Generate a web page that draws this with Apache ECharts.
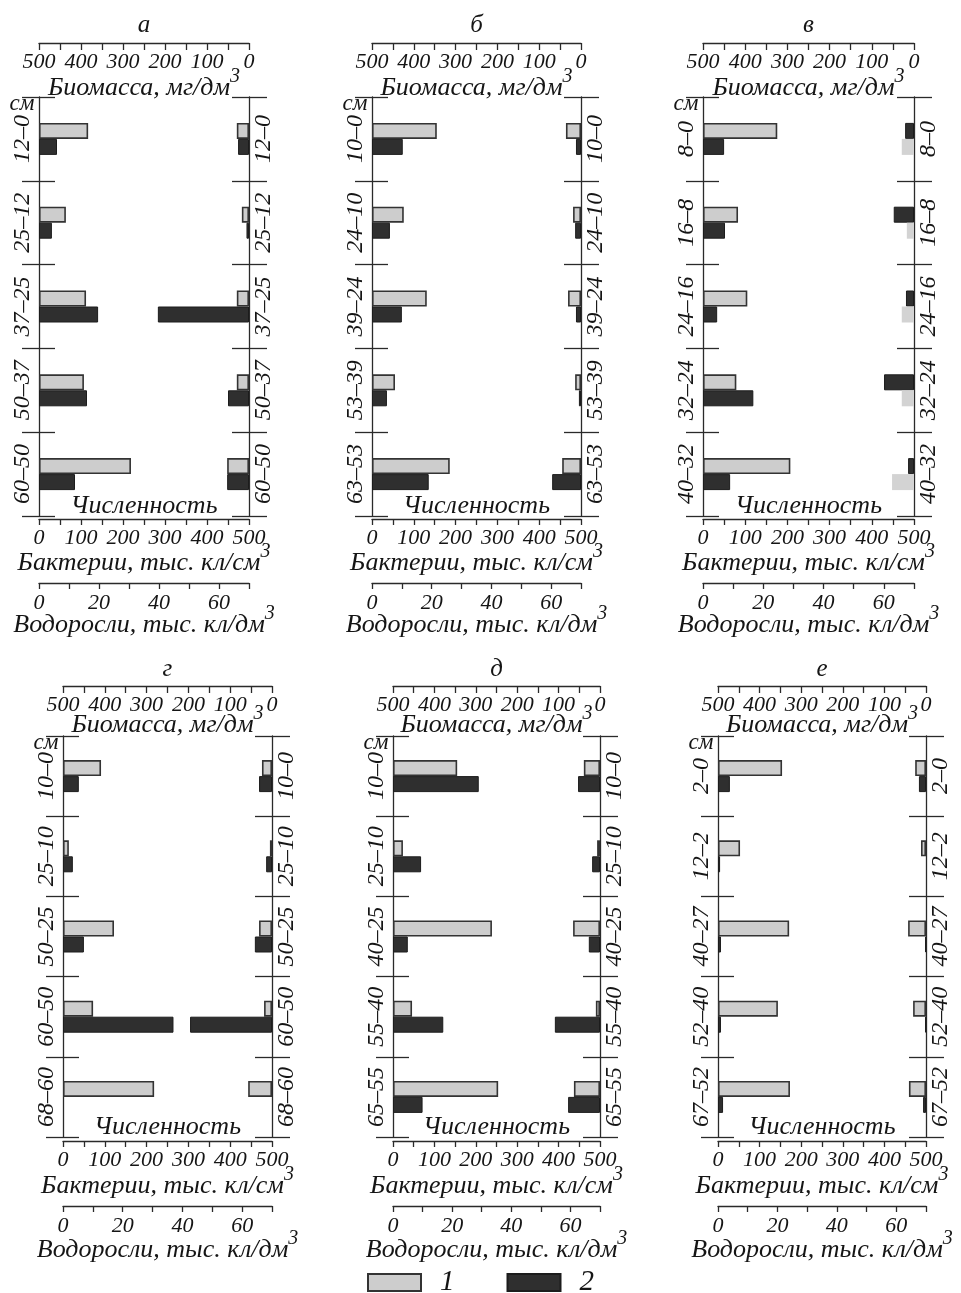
<!DOCTYPE html>
<html><head><meta charset="utf-8">
<script src="https://cdn.jsdelivr.net/npm/echarts@6/dist/echarts.min.js"></script>
<style>html,body{margin:0;padding:0;background:#fff}#c{width:961px;height:1293px}</style>
</head><body><div id="c"></div>
<script>
// ---------- DATA ----------
const panelLetters = ['а', 'б', 'в', 'г', 'д', 'е'];

// depth layers, cm
const depthA = ['12–0', '25–12', '37–25', '50–37', '60–50'];
const depthB = ['10–0', '24–10', '39–24', '53–39', '63–53'];
const depthV = ['8–0', '16–8', '24–16', '32–24', '40–32'];
const depthG = ['10–0', '25–10', '50–25', '60–50', '68–60'];
const depthD = ['10–0', '25–10', '40–25', '55–40', '65–55'];
const depthE = ['2–0', '12–2', '40–27', '52–40', '67–52'];

// 1 – bacteria numbers, thousand cells / cm3 (left, light)
const bactA = [117, 64, 112, 107, 219];
const bactB = [155, 76, 131, 55, 186];
const bactV = [176, 83, 105, 79, 207];
const bactG = [91, 14, 122, 72, 218];
const bactD = [155, 24, 239, 46, 254];
const bactE = [154, 53, 171, 144, 173];

// 2 – algae numbers, thousand cells / dm3 (left, dark)
const algaeA = [6, 4.3, 19.7, 16, 12];
const algaeB = [10.3, 6, 10, 5, 19];
const algaeV = [7, 7.3, 4.7, 16.7, 9];
const algaeG = [5.3, 3.3, 7, 37, 0];
const algaeD = [29, 9.5, 5, 17, 10];
const algaeE = [4, 0.7, 1, 1, 1.7];

// 1 – bacterial biomass, mg / dm3 (right, light)
const bactBioA = [29, 17, 29, 29, 52];
const bactBioB = [36, 19, 31, 14, 45];
const bactBioV = [29, 17, 29, 29, 52];
const bactBioG = [24, 5, 31, 19, 57];
const bactBioD = [39, 7, 65, 10, 63];
const bactBioE = [26, 12, 43, 31, 41];

// 2 – algal biomass, mg / dm3 (right, dark)
const algaeBioA = [26, 6, 217, 50, 52];
const algaeBioB = [12, 14, 12, 5, 69];
const algaeBioV = [21, 48, 19, 71, 14];
const algaeBioG = [31, 14, 41, 196, 0];
const algaeBioD = [53, 19, 27, 109, 77];
const algaeBioE = [17, 0, 2, 2, 7];

// axis tick labels
const hundredTicks = [0, 100, 200, 300, 400, 500];
const algaeTicks = [0, 20, 40, 60];
const legendNames = ['1', '2'];

// ---------- LAYOUT / STYLE ----------
const depths = [depthA, depthB, depthV, depthG, depthD, depthE];
const bact = [bactA, bactB, bactV, bactG, bactD, bactE];
const algae = [algaeA, algaeB, algaeV, algaeG, algaeD, algaeE];
const bactBio = [bactBioA, bactBioB, bactBioV, bactBioG, bactBioD, bactBioE];
const algaeBio = [algaeBioA, algaeBioB, algaeBioV, algaeBioG, algaeBioD, algaeBioE];

const grids = [
  {left: 39, top: 97, width: 210, height: 419, row: 0},
  {left: 372, top: 97, width: 209, height: 419, row: 0},
  {left: 703, top: 97, width: 211, height: 419, row: 0},
  {left: 63, top: 736, width: 209, height: 401, row: 1},
  {left: 393, top: 736, width: 207, height: 401, row: 1},
  {left: 718, top: 736, width: 208, height: 401, row: 1}
];
const rowCfg = [
  {topOff: 54, bactOff: 3, algOff: 67, topGap: -58, bactGap: 23, algGap: 21, letterY: 25},
  {topOff: 50, bactOff: 4, algOff: 69, topGap: -52, bactGap: 24, algGap: 23, letterY: 669}
];

const FONT = '"Liberation Serif", "DejaVu Serif", serif';
const INK = '#151515';
const lineSt = {color: '#2a2a2a', width: 1.3};
const lightStyle = {color: '#cdcdcd', borderColor: '#333333', borderWidth: 1.6};
const lightNoBorder = {color: '#d3d3d3', borderColor: '#d3d3d3', borderWidth: 0};
const darkStyle = {color: '#2f2f2f', borderColor: '#1c1c1c', borderWidth: 1};

const labelFont = {fontFamily: FONT, fontStyle: 'italic', fontSize: 22, color: INK};
const catFont = {fontFamily: FONT, fontStyle: 'italic', fontSize: 24, color: INK};
const richName = {
  n: {fontFamily: FONT, fontStyle: 'italic', fontSize: 26, color: INK, padding: [8, 0, 0, 0], verticalAlign: 'bottom'},
  s: {fontFamily: FONT, fontStyle: 'italic', fontSize: 20, color: INK, verticalAlign: 'top'}
};
const nameStyle = {rich: richName};

const fmtHundred = v => (hundredTicks.indexOf(v) >= 0 ? String(v) : '');
const fmtAlgae = v => (algaeTicks.indexOf(v) >= 0 ? String(v) : '');
const nz = arr => arr.map(v => (v === 0 ? null : v));

const option = {
  animation: false,
  backgroundColor: '#fff',
  grid: [], xAxis: [], yAxis: [], series: [], graphic: [],
  legend: {
    data: legendNames, left: 362, top: 1263, icon: 'rect',
    itemWidth: 53, itemHeight: 17, itemGap: 52, selectedMode: false,
    textStyle: {fontFamily: FONT, fontStyle: 'italic', fontSize: 29, color: INK, padding: [0, 0, 0, 14]}
  }
};

grids.forEach((g, k) => {
  const rc = rowCfg[g.row];
  option.grid.push({left: g.left, top: g.top, width: g.width, height: g.height,
    containLabel: false, outerBoundsMode: 'none'});

  const baseX = {
    gridIndex: k, type: 'value', min: 0, splitLine: {show: false},
    axisLine: {show: true, onZero: false, lineStyle: lineSt},
    nameLocation: 'middle', nameMoveOverlap: false, nameTextStyle: nameStyle
  };
  // bacteria numbers axis (bottom)
  option.xAxis.push(Object.assign({}, baseX, {
    position: 'bottom', offset: rc.bactOff, max: 500, interval: 50,
    axisTick: {show: true, length: 6, lineStyle: lineSt},
    axisLabel: Object.assign({margin: 8, formatter: fmtHundred}, labelFont),
    name: '{n|Бактерии, тыс. кл/см}{s|3}', nameGap: rc.bactGap
  }));
  // algae numbers axis (lower bottom)
  option.xAxis.push(Object.assign({}, baseX, {
    position: 'bottom', offset: rc.algOff, max: 70, interval: 10,
    axisTick: {show: true, length: 6, lineStyle: lineSt},
    axisLabel: Object.assign({margin: 9, formatter: fmtAlgae}, labelFont),
    name: '{n|Водоросли, тыс. кл/дм}{s|3}', nameGap: rc.algGap
  }));
  // biomass axis (top, reversed)
  option.xAxis.push(Object.assign({}, baseX, {
    position: 'top', offset: rc.topOff, max: 500, interval: 50, inverse: true,
    axisTick: {show: true, inside: true, length: 7, lineStyle: lineSt},
    axisLabel: Object.assign({inside: true, margin: 8, formatter: fmtHundred}, labelFont),
    name: '{n|Биомасса, мг/дм}{s|3}', nameGap: rc.topGap
  }));

  const baseY = {
    gridIndex: k, type: 'category', data: depths[k], inverse: true,
    splitLine: {show: false}
  };
  option.yAxis.push(Object.assign({}, baseY, {
    position: 'left', axisLine: {show: true, onZero: false, lineStyle: lineSt},
    axisTick: {show: true, length: 17, lineStyle: lineSt},
    axisLabel: Object.assign({rotate: 90, margin: 4, interval: 0}, catFont)
  }));
  option.yAxis.push(Object.assign({}, baseY, {
    position: 'left', axisLine: {show: false, onZero: false},
    axisTick: {show: true, inside: true, length: 16, lineStyle: lineSt},
    axisLabel: {show: false}
  }));
  option.yAxis.push(Object.assign({}, baseY, {
    position: 'right', axisLine: {show: true, onZero: false, lineStyle: lineSt},
    axisTick: {show: true, length: 18, lineStyle: lineSt},
    axisLabel: Object.assign({rotate: 90, margin: 3, interval: 0}, catFont)
  }));
  option.yAxis.push(Object.assign({}, baseY, {
    position: 'right', axisLine: {show: false, onZero: false},
    axisTick: {show: true, inside: true, length: 17, lineStyle: lineSt},
    axisLabel: {show: false}
  }));

  const bar = {type: 'bar', barWidth: 16, barGap: '0%', silent: true};
  option.series.push(Object.assign({}, bar, {
    name: legendNames[0], xAxisIndex: 3 * k, yAxisIndex: 4 * k, data: nz(bact[k]), itemStyle: lightStyle
  }));
  option.series.push(Object.assign({}, bar, {
    name: legendNames[1], xAxisIndex: 3 * k + 1, yAxisIndex: 4 * k, data: nz(algae[k]), itemStyle: darkStyle
  }));
  const rLight = Object.assign({}, bar, {
    name: legendNames[0], xAxisIndex: 3 * k + 2, yAxisIndex: 4 * k + 2, data: nz(bactBio[k]),
    itemStyle: k === 2 ? lightNoBorder : lightStyle
  });
  const rDark = Object.assign({}, bar, {
    name: legendNames[1], xAxisIndex: 3 * k + 2, yAxisIndex: 4 * k + 2, data: nz(algaeBio[k]), itemStyle: darkStyle
  });
  if (k === 2) { option.series.push(rDark, rLight); } else { option.series.push(rLight, rDark); }

  const cx = g.left + g.width / 2;
  option.graphic.push({type: 'text', x: cx, y: rc.letterY, silent: true,
    style: {text: panelLetters[k], font: 'italic 25px ' + FONT, fill: INK, align: 'center', verticalAlign: 'middle'}});
  option.graphic.push({type: 'text', x: g.left - 17, y: g.top + 7, silent: true,
    style: {text: 'см', font: 'italic 23px ' + FONT, fill: INK, align: 'center', verticalAlign: 'middle'}});
  option.graphic.push({type: 'text', x: cx, y: g.top + g.height - 10, silent: true,
    style: {text: 'Численность', font: 'italic 26px ' + FONT, fill: INK, align: 'center', verticalAlign: 'middle'}});
});

const chart = echarts.init(document.getElementById('c'), null, {renderer: 'canvas'});
chart.setOption(option);
</script>
</body></html>
